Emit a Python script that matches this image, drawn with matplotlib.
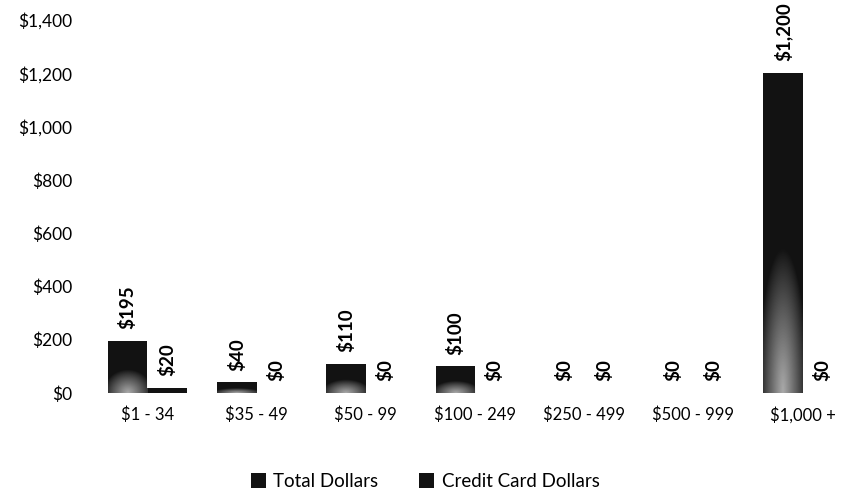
import numpy as np
import matplotlib
matplotlib.use("Agg")
import matplotlib.pyplot as plt
from matplotlib.ticker import FuncFormatter

categories = ["$1 - 34", "$35 - 49", "$50 - 99", "$100 - 249", "$250 - 499", "$500 - 999", "$1,000 +"]
total_dollars = [195, 40, 110, 100, 0, 0, 1200]
credit_dollars = [20, 0, 0, 0, 0, 0, 0]
series_names = ["Total Dollars", "Credit Card Dollars"]

plt.rcParams['font.family'] = ['Lato', 'DejaVu Sans']

fig = plt.figure(figsize=(8.59, 4.94), dpi=100)
ax = fig.add_axes([0.108, 0.2045, 0.89, 0.755])

x = np.arange(len(categories))
w = 0.36
dark = '#121212'
b1 = ax.bar(x - w / 2, total_dollars, w, color=dark, label=series_names[0], zorder=2)
b2 = ax.bar(x + w / 2, credit_dollars, w, color=dark, label=series_names[1], zorder=2)

# soft lighter glow at bottom of the total bars
yy, xx = np.mgrid[0:1:100j, -1:1:60j]
for p in b1.patches:
    h = p.get_height()
    if h <= 0:
        continue
    r = np.sqrt((xx / 1.25) ** 2 + (yy / 0.45) ** 2)
    val = np.clip(1 - r, 0, 1) ** 0.9
    img = np.ones((100, 60, 4))
    img[..., :3] = 0.82
    img[..., 3] = val * 0.8
    im = ax.imshow(img, extent=[p.get_x(), p.get_x() + p.get_width(), p.get_y(), p.get_y() + h],
                   origin='lower', aspect='auto', zorder=3, interpolation='bilinear')
    im.set_clip_path(p)

ax.set_xlim(-0.5, len(categories) - 0.5)
ax.set_ylim(0, 1400)
ax.set_yticks(np.arange(0, 1401, 200))
ax.yaxis.set_major_formatter(FuncFormatter(lambda v, _: f"${v:,.0f}"))
ax.set_xticks(x)
ax.set_xticklabels(categories)
for s in ax.spines.values():
    s.set_visible(False)
ax.tick_params(axis='y', length=0, pad=14.5, labelsize=12.5)
ax.tick_params(axis='x', length=0, pad=10, labelsize=12)

for bars, vals in ((b1, total_dollars), (b2, credit_dollars)):
    for p, v in zip(bars.patches, vals):
        ax.annotate(f"${v:,.0f}", (p.get_x() + p.get_width() / 2, p.get_height()),
                    xytext=(0, 8.5), textcoords='offset points', rotation=90,
                    ha='center', va='bottom', fontsize=13.5, fontweight='bold',
                    annotation_clip=False, zorder=4)

leg = fig.legend(handles=[b1, b2], labels=series_names, loc='center', bbox_to_anchor=(0.495, 0.025),
                 ncol=2, frameon=False, fontsize=13.5, handlelength=0.8, handleheight=0.8,
                 handletextpad=0.4, columnspacing=2.2)

fig.savefig("out.png", dpi=100)
